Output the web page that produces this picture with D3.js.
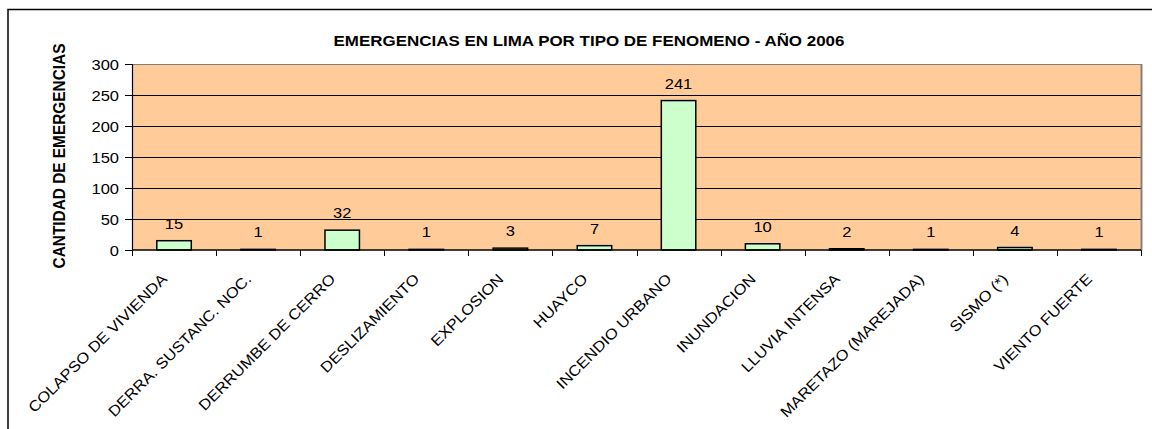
<!DOCTYPE html>
<html>
<head>
<meta charset="utf-8">
<script src="https://cdn.jsdelivr.net/npm/d3@7"></script>
<style>
  body { margin: 0; background: #fff; }
  svg { display: block; font-family: "Liberation Sans", Arial, sans-serif; }
</style>
</head>
<body>
<div id="chart"></div>
<script>
// data
var categories = ["COLAPSO DE VIVIENDA", "DERRA. SUSTANC. NOC.", "DERRUMBE DE CERRO", "DESLIZAMIENTO",
  "EXPLOSION", "HUAYCO", "INCENDIO URBANO", "INUNDACION", "LLUVIA INTENSA",
  "MARETAZO (MAREJADA)", "SISMO (*)", "VIENTO FUERTE"];
var emergencias = [15, 1, 32, 1, 3, 7, 241, 10, 2, 1, 4, 1];
var yTicks = [0, 50, 100, 150, 200, 250, 300];

var data = categories.map(function(c, i) { return {cat: c, val: emergencias[i]}; });

var W = 1152, H = 429;
var margin = {top: 64, right: 11, bottom: 179, left: 132};
var width = W - margin.left - margin.right,
    height = H - margin.top - margin.bottom;
var sx = 1.1; // text in the original looks a bit wide

var svg = d3.select("#chart").append("svg")
  .attr("width", W)
  .attr("height", H);

// outer chart border
svg.append("rect")
  .attr("x", 8).attr("y", 9.5)
  .attr("width", 1160).attr("height", 440)
  .attr("fill", "none")
  .attr("stroke", "#000")
  .attr("stroke-width", 1.5);

svg.append("text")
  .attr("transform", "translate(589,46) scale(1.13,1)")
  .attr("text-anchor", "middle")
  .style("font-weight", "bold")
  .style("font-size", "15px")
  .text("EMERGENCIAS EN LIMA POR TIPO DE FENOMENO - AÑO 2006");

svg.append("text")
  .attr("transform", "translate(65,156) rotate(-90) scale(1,1.1)")
  .attr("text-anchor", "middle")
  .style("font-weight", "bold")
  .style("font-size", "15.4px")
  .text("CANTIDAD DE EMERGENCIAS");

var g = svg.append("g")
  .attr("transform", "translate(" + margin.left + "," + margin.top + ")");

var x = d3.scaleBand()
  .domain(categories)
  .range([0, width])
  .paddingInner(0.59)
  .paddingOuter(0.295);

var y = d3.scaleLinear()
  .domain([0, 300])
  .range([height, 0]);

// plot background
g.append("rect")
  .attr("width", width).attr("height", height)
  .attr("fill", "#FFCC99");

// gridlines
g.selectAll(".grid")
  .data(yTicks.slice(1))
  .enter().append("line")
  .attr("x1", 0).attr("x2", width)
  .attr("y1", function(d) { return Math.round(y(d)) + 0.5; })
  .attr("y2", function(d) { return Math.round(y(d)) + 0.5; })
  .attr("stroke", function(d) { return d == 300 ? "#808080" : "#000"; })
  .attr("stroke-width", 1);

// right border of plot area
g.append("line")
  .attr("x1", width + 0.5).attr("x2", width + 0.5)
  .attr("y1", 0).attr("y2", height)
  .attr("stroke", "#808080").attr("stroke-width", 2);

// bars
g.selectAll(".bar")
  .data(data)
  .enter().append("rect")
  .attr("class", "bar")
  .attr("x", function(d) { return x(d.cat); })
  .attr("y", function(d) { return y(d.val); })
  .attr("width", x.bandwidth())
  .attr("height", function(d) { return height - y(d.val); })
  .attr("fill", "#CCFFCC")
  .attr("stroke", "#000")
  .attr("stroke-width", 1.5);

// value labels
g.selectAll(".lbl")
  .data(data)
  .enter().append("text")
  .attr("transform", function(d) {
    return "translate(" + (x(d.cat) + x.bandwidth() / 2) + "," + (y(d.val) - 12) + ") scale(" + sx + ",1)";
  })
  .attr("text-anchor", "middle")
  .style("font-size", "15px")
  .text(function(d) { return d.val; });

// y axis
var yAxis = g.append("g")
  .call(d3.axisLeft(y).tickValues(yTicks).tickSize(7));
yAxis.select(".domain").attr("stroke", "#000").attr("stroke-width", 1.2);
yAxis.selectAll("text")
  .attr("x", null)
  .attr("transform", "translate(-13,0) scale(" + sx + ",1)")
  .attr("dy", "0.36em")
  .attr("fill", "#000")
  .style("font-size", "15px");

// x axis: ticks on band boundaries
var xg = g.append("g").attr("transform", "translate(0," + height + ")");
xg.append("line")
  .attr("x1", 0).attr("x2", width)
  .attr("stroke", "#000").attr("stroke-width", 1.5);
xg.selectAll(".tk")
  .data(d3.range(categories.length + 1))
  .enter().append("line")
  .attr("x1", function(i) { return Math.round(i * width / categories.length) + 0.5; })
  .attr("x2", function(i) { return Math.round(i * width / categories.length) + 0.5; })
  .attr("y1", 0).attr("y2", 6)
  .attr("stroke", "#000");

xg.selectAll(".xl")
  .data(categories)
  .enter().append("text")
  .attr("transform", function(d) {
    return "translate(" + (x(d) + x.bandwidth() / 2 - 6) + ",30) rotate(-45) scale(" + sx + ",1)";
  })
  .attr("text-anchor", "end")
  .style("font-size", "15px")
  .text(function(d) { return d; });
</script>
</body>
</html>
